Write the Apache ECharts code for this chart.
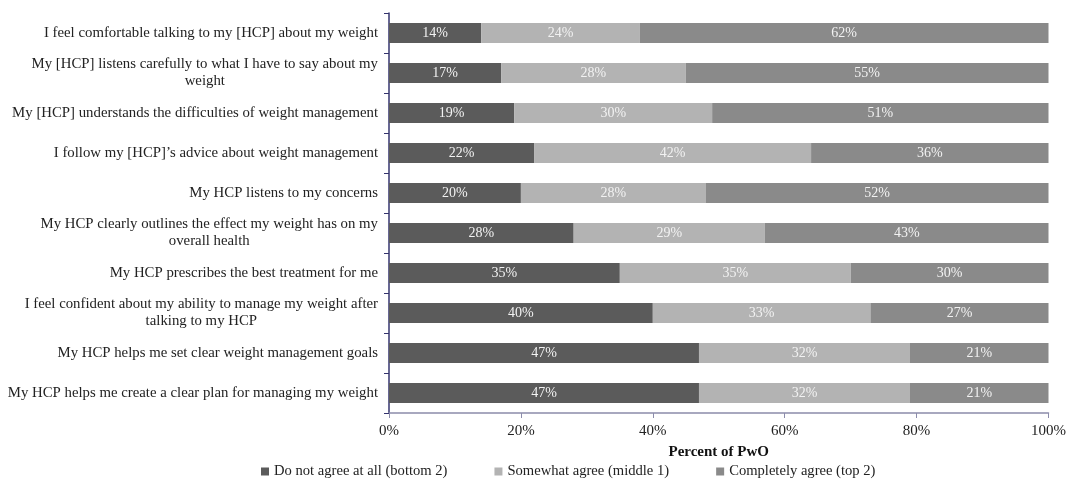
<!DOCTYPE html>
<html>
<head>
<meta charset="utf-8">
<script src="https://cdn.jsdelivr.net/npm/echarts@6/dist/echarts.min.js"></script>
<style>
  html, body { margin: 0; padding: 0; background: #fff; }
  #chart { width: 1069px; height: 484px; }
</style>
</head>
<body>
<div id="chart"></div>
<script>
const categories = [
    'I feel comfortable talking to my [HCP] about my weight',
    'My [HCP] listens carefully to what I have to say about my\nweight',
    'My [HCP] understands the difficulties of weight management',
    'I follow my [HCP]\u2019s advice about weight management',
    'My HCP listens to my concerns',
    'My HCP clearly outlines the effect my weight has on my\noverall health',
    'My HCP prescribes the best treatment for me',
    'I feel confident about my ability to manage my weight after\ntalking to my HCP',
    'My HCP helps me set clear weight management goals',
    'My HCP helps me create a clear plan for managing my weight'
]
const seriesNames = ['Do not agree at all (bottom 2)', 'Somewhat agree (middle 1)', 'Completely agree (top 2)']
const bottom2 = [14, 17, 19, 22, 20, 28, 35, 40, 47, 47]
const middle1 = [24, 28, 30, 42, 28, 29, 35, 33, 32, 32]
const top2 = [62, 55, 51, 36, 52, 43, 30, 27, 21, 21]
const xTicks = [0, 20, 40, 60, 80, 100]

const colors = ['#5b5b5b', '#b3b3b3', '#8a8a8a']
const font = '"Liberation Serif", "Times New Roman", serif'
const values = [bottom2, middle1, top2]

const chart = echarts.init(document.getElementById('chart'))

const series = []
for (let i = 0; i < seriesNames.length; i++) {
    series.push({
        name: seriesNames[i],
        type: 'bar',
        stack: 'total',
        barWidth: 20,
        data: values[i],
        itemStyle: { color: colors[i] },
        label: {
            show: true,
            position: 'inside',
            color: '#f2f2f2',
            fontFamily: font,
            fontSize: 14,
            formatter(p) {
                return p.value + '%'
            }
        }
    })
}

const option = {
    animation: false,
    color: colors,
    grid: {
        left: 389,
        right: 19,
        top: 13,
        bottom: 71,
        containLabel: false
    },
    legend: {
        data: seriesNames,
        top: 459,
        left: 256,
        icon: 'rect',
        itemWidth: 8,
        itemHeight: 8,
        itemGap: 47,
        textStyle: {
            color: '#222',
            fontFamily: font,
            fontSize: 14.6
        }
    },
    xAxis: {
        type: 'value',
        min: 0,
        max: 100,
        interval: 20,
        name: 'Percent of PwO',
        nameLocation: 'middle',
        nameGap: 32,
        nameTextStyle: {
            color: '#111',
            fontFamily: font,
            fontSize: 15,
            fontWeight: 'bold'
        },
        axisLine: { show: true, lineStyle: { color: '#8c8cab', width: 1.5 } },
        axisTick: { show: true, length: 5, lineStyle: { color: '#8c8cab' } },
        splitLine: { show: false },
        axisLabel: {
            margin: 11,
            color: '#222',
            fontFamily: font,
            fontSize: 15,
            customValues: xTicks,
            formatter: '{value}%'
        }
    },
    yAxis: {
        type: 'category',
        inverse: true,
        data: categories,
        axisLine: { show: true, lineStyle: { color: '#34346e', width: 1.5 } },
        axisTick: { show: true, length: 5, lineStyle: { color: '#34346e' } },
        axisLabel: {
            margin: 11,
            color: '#222',
            fontFamily: font,
            fontSize: 14.8,
            lineHeight: 17,
            formatter(v) {
                const lines = v.split('\n')
                if (lines.length === 1) return v
                return '{a|' + lines[0] + '}\n{c|' + lines[1] + '}'
            },
            rich: {
                a: { align: 'right', fontFamily: font, fontSize: 14.8, lineHeight: 17, color: '#222' },
                c: { align: 'center', fontFamily: font, fontSize: 14.8, lineHeight: 17, color: '#222' }
            }
        }
    },
    series: series
}

chart.setOption(option, true)
</script>
</body>
</html>
